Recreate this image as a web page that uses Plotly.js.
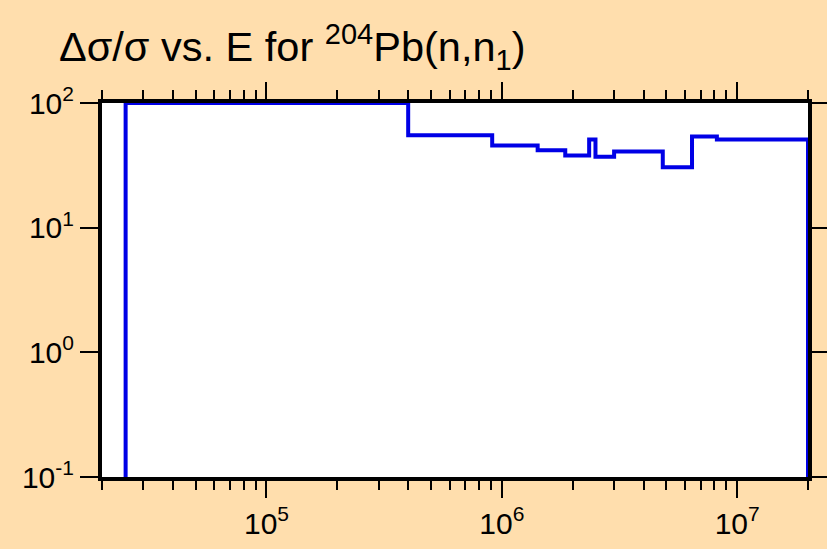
<!DOCTYPE html>
<html>
<head>
<meta charset="utf-8">
<script src="https://cdn.plot.ly/plotly-3.0.1.min.js"></script>
<style>html,body{margin:0;padding:0;background:#FFDEAD;}#chart{width:827px;height:549px;}</style>
</head>
<body>
<div id="chart"></div>
<script>
// Bin edges of energy (eV) and relative uncertainty (%) per bin
const energyEdges = [2.52e4, 4.0e5, 9.1e5, 1.42e6, 1.86e6, 2.35e6, 2.5e6, 3.0e6, 4.83e6, 6.43e6, 8.2e6, 2.0e7];
const relUncertainty = [100, 55, 45.6, 41.8, 37.9, 50.9, 37.0, 40.8, 30.5, 53.9, 50.9];
const floorValue = 0.01;

const xTickVals = [1e5, 1e6, 1e7];
const xTickText = ['10<sup>5</sup>', '10<sup>6</sup>', '10<sup>7</sup>'];
const yTickVals = [0.1, 1, 10, 100];
const yTickText = ['10<sup>-1</sup>', '10<sup>0</sup>', '10<sup>1</sup>', '10<sup>2</sup>'];

// Build step outline (vertical then horizontal)
const xs = [energyEdges[0]];
const ys = [floorValue];
for (let i = 0; i < relUncertainty.length; i++) {
  xs.push(energyEdges[i + 1]);
  ys.push(relUncertainty[i]);
}
xs.push(energyEdges[energyEdges.length - 1]);
ys.push(floorValue);

const font = {family: 'Liberation Sans, Arial, sans-serif', color: '#000'};

const trace = {
  x: xs, y: ys, type: 'scatter', mode: 'lines',
  line: {shape: 'vh', color: '#0000e6', width: 4},
  hoverinfo: 'skip'
};

const layout = {
  width: 827, height: 549,
  paper_bgcolor: '#FFDEAD', plot_bgcolor: '#ffffff',
  margin: {l: 102, r: 19, t: 103, b: 72},
  showlegend: false,
  title: {
    text: 'Δσ/σ vs. E for <sup>204</sup>Pb(n,n<sub>1</sub>)',
    font: Object.assign({size: 41.5}, font),
    xref: 'container', yref: 'container',
    x: 59 / 827, xanchor: 'left',
    y: 1 - 61 / 549, yanchor: 'bottom'
  },
  xaxis: {
    type: 'log',
    range: [Math.log10(2e4), Math.log10(2e7)],
    showgrid: false, zeroline: false,
    showline: true, linecolor: '#000', linewidth: 4, mirror: 'ticks',
    ticks: 'outside', ticklen: 17, tickwidth: 2, tickcolor: '#000',
    tickvals: xTickVals, ticktext: xTickText,
    tickfont: Object.assign({size: 30}, font),
    minor: {dtick: 'D1', ticks: 'outside', ticklen: 9, tickwidth: 2, tickcolor: '#000', showgrid: false}
  },
  yaxis: {
    type: 'log',
    range: [-1, 2],
    showgrid: false, zeroline: false,
    showline: true, linecolor: '#000', linewidth: 4, mirror: 'ticks',
    ticks: 'outside', ticklen: 18, tickwidth: 2, tickcolor: '#000',
    tickvals: yTickVals, ticktext: yTickText,
    tickfont: Object.assign({size: 30}, font)
  }
};

Plotly.newPlot('chart', [trace], layout, {displayModeBar: false, staticPlot: true});
</script>
</body>
</html>
